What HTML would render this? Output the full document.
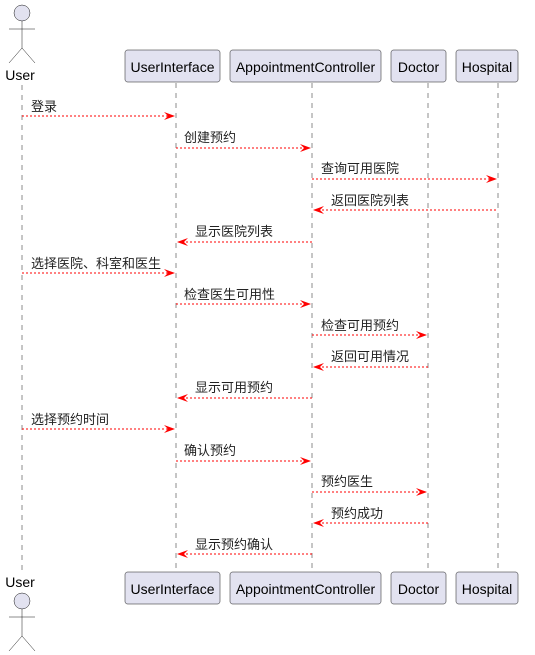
<!DOCTYPE html>
<html><head><meta charset="utf-8">
<style>
html,body{margin:0;padding:0;background:#fff;}
svg{display:block;}
text{font-family:"Liberation Sans","Noto Sans CJK SC",sans-serif;}
</style></head>
<body>
<svg width="535" height="655" viewBox="0 0 535 655" xmlns="http://www.w3.org/2000/svg">
<g stroke="#181818" stroke-width="0.5" stroke-dasharray="5,5" fill="none">
<line x1="22" y1="85" x2="22" y2="572"/>
<line x1="176" y1="83" x2="176" y2="572"/>
<line x1="312" y1="83" x2="312" y2="572"/>
<line x1="428" y1="83" x2="428" y2="572"/>
<line x1="498" y1="83" x2="498" y2="572"/>
</g>
<g stroke="#181818" stroke-width="0.5" fill="#E2E2F0">
<circle cx="22" cy="13" r="8"/>
<line x1="22" y1="21" x2="22" y2="48"/>
<line x1="9" y1="29" x2="35" y2="29"/>
<line x1="22" y1="48" x2="9" y2="63"/>
<line x1="22" y1="48" x2="35" y2="63"/>
<circle cx="22" cy="601" r="8"/>
<line x1="22" y1="609" x2="22" y2="636"/>
<line x1="9" y1="617" x2="35" y2="617"/>
<line x1="22" y1="636" x2="9" y2="651"/>
<line x1="22" y1="636" x2="35" y2="651"/>
</g>
<g font-size="14" fill="#000">
<text x="20" y="80" text-anchor="middle">User</text>
<text x="20" y="587" text-anchor="middle">User</text>
</g>
<g fill="#E2E2F0" stroke="#181818" stroke-width="0.5">
<rect x="125" y="50" width="95" height="32" rx="2.5"/>
<rect x="230" y="50" width="151" height="32" rx="2.5"/>
<rect x="391" y="50" width="55" height="32" rx="2.5"/>
<rect x="456" y="50" width="62" height="32" rx="2.5"/>
<rect x="125" y="572" width="95" height="32" rx="2.5"/>
<rect x="230" y="572" width="151" height="32" rx="2.5"/>
<rect x="391" y="572" width="55" height="32" rx="2.5"/>
<rect x="456" y="572" width="62" height="32" rx="2.5"/>
</g>
<g font-size="14" fill="#000" text-anchor="middle">
<text x="172.5" y="72">UserInterface</text>
<text x="305.5" y="72">AppointmentController</text>
<text x="418.5" y="72">Doctor</text>
<text x="487" y="72">Hospital</text>
<text x="172.5" y="594">UserInterface</text>
<text x="305.5" y="594">AppointmentController</text>
<text x="418.5" y="594">Doctor</text>
<text x="487" y="594">Hospital</text>
</g>
<g stroke="#FF0000" stroke-width="1" stroke-dasharray="2,2">
<line x1="22" y1="116" x2="174" y2="116"/>
<line x1="176" y1="148" x2="310" y2="148"/>
<line x1="312" y1="179" x2="496" y2="179"/>
<line x1="314" y1="210" x2="498" y2="210"/>
<line x1="178" y1="242" x2="312" y2="242"/>
<line x1="22" y1="273" x2="174" y2="273"/>
<line x1="176" y1="304" x2="310" y2="304"/>
<line x1="312" y1="335" x2="426" y2="335"/>
<line x1="314" y1="367" x2="428" y2="367"/>
<line x1="178" y1="398" x2="312" y2="398"/>
<line x1="22" y1="429" x2="174" y2="429"/>
<line x1="176" y1="461" x2="310" y2="461"/>
<line x1="312" y1="492" x2="426" y2="492"/>
<line x1="314" y1="523" x2="428" y2="523"/>
<line x1="178" y1="554" x2="312" y2="554"/>
</g>
<g fill="#FF0000">
<polygon points="164,112 175,116 164,120 168,116"/>
<polygon points="300,144 311,148 300,152 304,148"/>
<polygon points="486,175 497,179 486,183 490,179"/>
<polygon points="324,206 313,210 324,214 320,210"/>
<polygon points="188,238 177,242 188,246 184,242"/>
<polygon points="164,269 175,273 164,277 168,273"/>
<polygon points="300,300 311,304 300,308 304,304"/>
<polygon points="416,331 427,335 416,339 420,335"/>
<polygon points="324,363 313,367 324,371 320,367"/>
<polygon points="188,394 177,398 188,402 184,398"/>
<polygon points="164,425 175,429 164,433 168,429"/>
<polygon points="300,457 311,461 300,465 304,461"/>
<polygon points="416,488 427,492 416,496 420,492"/>
<polygon points="324,519 313,523 324,527 320,523"/>
<polygon points="188,550 177,554 188,558 184,554"/>
</g>
<g font-size="13" fill="#222">
<text x="31" y="111">登录</text>
<text x="184" y="142">创建预约</text>
<text x="321" y="173">查询可用医院</text>
<text x="331" y="205">返回医院列表</text>
<text x="195" y="236">显示医院列表</text>
<text x="31" y="268">选择医院、科室和医生</text>
<text x="184" y="299">检查医生可用性</text>
<text x="321" y="330">检查可用预约</text>
<text x="331" y="361">返回可用情况</text>
<text x="195" y="392">显示可用预约</text>
<text x="31" y="424">选择预约时间</text>
<text x="184" y="455">确认预约</text>
<text x="321" y="486">预约医生</text>
<text x="331" y="518">预约成功</text>
<text x="195" y="549">显示预约确认</text>
</g>
</svg>
</body></html>
